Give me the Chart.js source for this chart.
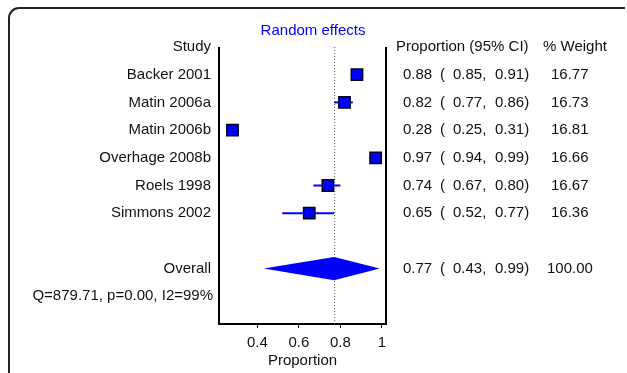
<!DOCTYPE html>
<html>
<head>
<meta charset="utf-8">
<script src="https://cdn.jsdelivr.net/npm/chart.js@4/dist/chart.umd.min.js"></script>
<style>
  body { margin: 0; background: #fff; }
</style>
</head>
<body>
<canvas id="forest" width="627" height="373"></canvas>
<script>
// Study data (proportions, 95% CI, weights)
const studies = ['Backer 2001', 'Matin 2006a', 'Matin 2006b', 'Overhage 2008b', 'Roels 1998', 'Simmons 2002'];
const estimates = [0.88, 0.82, 0.28, 0.97, 0.74, 0.65];
const lower = [0.85, 0.77, 0.25, 0.94, 0.67, 0.52];
const upper = [0.91, 0.86, 0.31, 0.99, 0.80, 0.77];
const weights = ['16.77', '16.73', '16.81', '16.66', '16.67', '16.36'];

// Pooled estimate
const overallEst = 0.77;
const overallLo = 0.43;
const overallHi = 0.99;
const overallWeight = '100.00';
const heterogeneity = 'Q=879.71, p=0.00, I2=99%';

const xTicks = [0.4, 0.6, 0.8, 1];

const FONT = '15px Arial, "Liberation Sans", sans-serif';
const BLUE = '#0000ff';

// row positions on the y scale
const studyRows = studies.map((s, i) => i + 1);
const overallRow = 8;
const qRow = 9;

const fmt = v => v.toFixed(2);

const forestPlugin = {
  id: 'forest',
  beforeDraw(chart) {
    const ctx = chart.ctx;
    ctx.save();
    // outer frame
    ctx.strokeStyle = '#222';
    ctx.lineWidth = 2;
    ctx.beginPath();
    ctx.moveTo(625, 8);
    ctx.lineTo(19, 8);
    ctx.arcTo(9, 8, 9, 18, 10);
    ctx.lineTo(9, 373);
    ctx.stroke();
    ctx.restore();
  },
  beforeDatasetsDraw(chart) {
    const ctx = chart.ctx;
    const x = chart.scales.x;
    const y = chart.scales.y;
    const area = chart.chartArea;
    ctx.save();

    // dotted line at the pooled estimate
    ctx.strokeStyle = '#555';
    ctx.lineWidth = 1;
    ctx.setLineDash([1, 2]);
    ctx.beginPath();
    ctx.moveTo(x.getPixelForValue(overallEst) + 0.5, area.top);
    ctx.lineTo(x.getPixelForValue(overallEst) + 0.5, area.bottom);
    ctx.stroke();
    ctx.setLineDash([]);

    // confidence intervals
    ctx.strokeStyle = BLUE;
    ctx.lineWidth = 2;
    studies.forEach((s, i) => {
      const py = y.getPixelForValue(studyRows[i]);
      ctx.beginPath();
      ctx.moveTo(x.getPixelForValue(lower[i]), py);
      ctx.lineTo(x.getPixelForValue(upper[i]), py);
      ctx.stroke();
    });

    // pooled diamond
    const cy = y.getPixelForValue(overallRow);
    const h = y.getPixelForValue(overallRow + 0.42) - cy;
    ctx.fillStyle = BLUE;
    ctx.beginPath();
    ctx.moveTo(x.getPixelForValue(overallLo), cy);
    ctx.lineTo(x.getPixelForValue(overallEst), cy - h);
    ctx.lineTo(x.getPixelForValue(overallHi), cy);
    ctx.lineTo(x.getPixelForValue(overallEst), cy + h);
    ctx.closePath();
    ctx.fill();

    // box sides
    ctx.strokeStyle = '#000';
    ctx.lineWidth = 2;
    ctx.beginPath();
    ctx.moveTo(area.left, area.top);
    ctx.lineTo(area.left, area.bottom);
    ctx.moveTo(area.right, area.top);
    ctx.lineTo(area.right, area.bottom);
    ctx.stroke();
    ctx.restore();
  },
  afterDraw(chart) {
    const ctx = chart.ctx;
    const y = chart.scales.y;
    ctx.save();
    ctx.font = FONT;
    ctx.textBaseline = 'middle';

    // title
    ctx.fillStyle = BLUE;
    ctx.textAlign = 'center';
    ctx.fillText('Random effects', 313, 31);

    ctx.fillStyle = '#111';
    // left labels
    ctx.textAlign = 'right';
    ctx.fillText('Study', 211, y.getPixelForValue(0));
    studies.forEach((s, i) => ctx.fillText(s, 211, y.getPixelForValue(studyRows[i])));
    ctx.fillText('Overall', 211, y.getPixelForValue(overallRow));
    ctx.fillText(heterogeneity, 213, y.getPixelForValue(qRow));

    // right columns
    ctx.textAlign = 'left';
    const h0 = y.getPixelForValue(0);
    ctx.fillText('Proportion (95% CI)', 396, h0);
    ctx.fillText('% Weight', 543, h0);
    const row = (e, l, u, w, py, wx) => {
      ctx.fillText(fmt(e), 403, py);
      ctx.fillText('(', 440, py);
      ctx.fillText(fmt(l) + ',', 453, py);
      ctx.fillText(fmt(u) + ')', 495, py);
      ctx.fillText(w, wx, py);
    };
    studies.forEach((s, i) => row(estimates[i], lower[i], upper[i], weights[i], y.getPixelForValue(studyRows[i]), 551));
    row(overallEst, overallLo, overallHi, overallWeight, y.getPixelForValue(overallRow), 547);
    ctx.restore();
  }
};

const ctx = document.getElementById('forest').getContext('2d');
const chart = new Chart(ctx, {
  type: 'scatter',
  data: {
    datasets: [{
      data: estimates.map((v, i) => ({ x: v, y: studyRows[i] })),
      pointStyle: 'rect',
      pointRadius: 8,
      backgroundColor: BLUE,
      borderColor: '#000022',
      borderWidth: 1.5
    }]
  },
  options: {
    responsive: false,
    animation: false,
    devicePixelRatio: 1,
    layout: { padding: { left: 219, right: 241, top: 47, bottom: 0 } },
    plugins: { legend: { display: false }, tooltip: { enabled: false } },
    scales: {
      x: {
        type: 'linear',
        min: 0.215,
        max: 1.02,
        afterBuildTicks: scale => { scale.ticks = xTicks.map(v => ({ value: v })); },
        afterFit: scale => { scale.height = 49; },
        ticks: {
          color: '#111',
          padding: 6,
          maxRotation: 0,
          font: { size: 15, family: 'Arial, "Liberation Sans", sans-serif' },
          callback: v => (v === 1 ? '1' : v.toFixed(1))
        },
        grid: { drawOnChartArea: false, drawTicks: true, tickLength: 4, color: '#000' },
        border: { display: true, color: '#000', width: 2 },
        title: {
          display: true,
          text: 'Proportion',
          color: '#111',
          padding: { top: 0, bottom: 3 },
          font: { size: 15, family: 'Arial, "Liberation Sans", sans-serif' }
        }
      },
      y: {
        type: 'linear',
        min: 0,
        max: 10,
        reverse: true,
        display: false
      }
    }
  },
  plugins: [forestPlugin]
});
</script>
</body>
</html>
